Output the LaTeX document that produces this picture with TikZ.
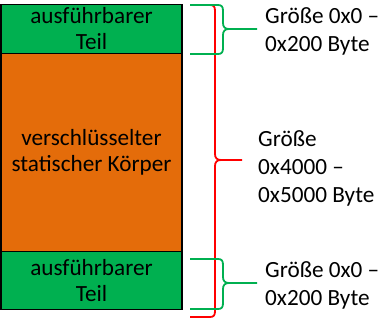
\documentclass[tikz,border=0pt]{standalone}
\usepackage{fontspec}
\setmainfont{Carlito}
\usetikzlibrary{positioning}
\definecolor{officegreen}{HTML}{00B050}
\definecolor{officeorange}{HTML}{E46C0A}
\tikzset{
    part/.style={draw=black, line width=1.5pt, minimum width=181pt, outer sep=0pt, inner sep=0pt,
        align=center, font=\fontsize{23.2}{26}\selectfont},
    exec/.style={part, fill=officegreen, minimum height=49pt},
    sizelabel/.style={anchor=west, align=left, inner sep=0pt, font=\fontsize{23.2}{28}\selectfont},
    brace/.style={line width=1.8pt, line join=round}
}
\begin{document}
\begin{tikzpicture}[x=1pt,y=-1pt]
        \useasboundingbox (0,0) rectangle (380,320);
        % file parts
            \node[exec] (exectop) at (91.5,29) {ausführbarer\\Teil};
            \node[part, fill=officeorange, minimum height=198pt, below=0pt of exectop] (body) {verschlüsselter\\statischer Körper};
            \node[exec, minimum height=58pt, below=0pt of body] (execbot) {ausführbarer\\Teil};
        % braces
            \foreach \top/\mid/\bot/\xv/\xt/\col in {5/160/317/215/242/red, 5/29/54/223/257/officegreen, 259/283/309/223/257/officegreen}{
                \draw[brace, \col] (190,\top) -- (\xv-5,\top) .. controls (\xv-1,\top) and (\xv,\top+2) .. (\xv,\top+6)
                    -- (\xv,\mid-6) .. controls (\xv,\mid-2) and (\xv+2,\mid) .. (\xv+6,\mid) -- (\xt,\mid);
                \draw[brace, \col] (\xv+6,\mid) .. controls (\xv+2,\mid) and (\xv,\mid+2) .. (\xv,\mid+6)
                    -- (\xv,\bot-6) .. controls (\xv,\bot-2) and (\xv-1,\bot) .. (\xv-5,\bot) -- (190,\bot);
            }
        % labels
            \node[sizelabel] (sizetop) at (265,31) {Größe 0x0 –\\0x200 Byte};
            \node[sizelabel] (sizebody) at (258,168) {Größe\\0x4000 –\\0x5000 Byte};
            \node[sizelabel] (sizebot) at (265,285) {Größe 0x0 –\\0x200 Byte};
        \end{tikzpicture}
\end{document}
